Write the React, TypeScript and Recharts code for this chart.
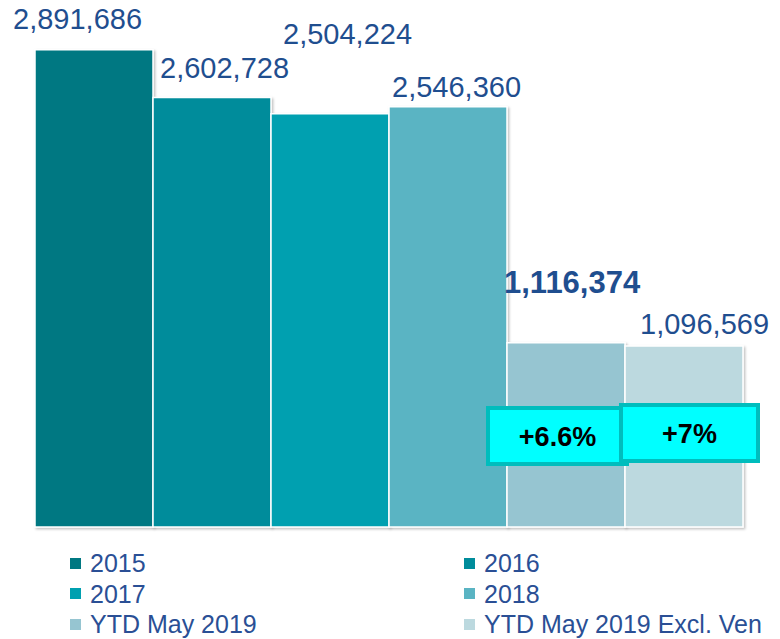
import React from 'react';
import { BarChart, Bar, XAxis, YAxis, LabelList, Legend } from 'recharts';

const SERIES = ['2015', '2016', '2017', '2018', 'YTD May 2019', 'YTD May 2019 Excl. Ven'];
const VALUES = [2891686, 2602728, 2504224, 2546360, 1116374, 1096569];
const GROWTH = ['', '', '', '', '+6.6%', '+7%'];
const COLORS = ['#007882', '#008C9B', '#00A0B0', '#5AB4C3', '#96C5D1', '#BCD9DF'];

// hand placed value labels, offset from top-left of each bar
const LABEL_DX = [-22, 7, 12, 3, -3, 15];
const LABEL_DY = [-21, -20, -70, -10, -50, -12];
const LABEL_BOLD = [false, false, false, false, true, false];

// growth badges, offset from bottom-left of the bar
const BOX_DX = [0, 0, 0, 0, -19, -4];
const BOX_W = [0, 0, 0, 0, 139, 137];
const BOX_DY = [0, 0, 0, 0, -119, -122];

const data = [
  SERIES.reduce((row: Record<string, number | string>, s, i) => {
    row[s] = VALUES[i];
    return row;
  }, { name: 'Total' }),
];

const TEXT_BLUE = '#1F4E8F';
const FONT = '"Liberation Sans", Arial, sans-serif';

const makeValueLabel = (i: number) => (props: any) => {
  const { x, y, value } = props;
  return (
    <text
      x={Number(x) + LABEL_DX[i]}
      y={Number(y) + LABEL_DY[i]}
      fill={TEXT_BLUE}
      fontFamily={FONT}
      fontSize={LABEL_BOLD[i] ? 31 : 29}
      fontWeight={LABEL_BOLD[i] ? 700 : 400}
      textAnchor="start"
    >
      {Number(value).toLocaleString('en-US')}
    </text>
  );
};

const makeGrowthBox = (i: number) => (props: any) => {
  const { x, y, height } = props;
  const bottom = Number(y) + Number(height);
  const bx = Number(x) + BOX_DX[i];
  const by = bottom + BOX_DY[i];
  const w = BOX_W[i];
  const h = 56;
  return (
    <g>
      <rect x={bx} y={by} width={w} height={h} fill="#00FFFF" stroke="#00BDBD" strokeWidth={4} />
      <text
        x={bx + w / 2}
        y={by + h / 2 + 10}
        textAnchor="middle"
        fontFamily={FONT}
        fontSize={27}
        fontWeight={700}
        fill="#000"
      >
        {GROWTH[i]}
      </text>
    </g>
  );
};

const GridLegend = (props: any) => {
  const { payload = [] } = props;
  return (
    <div
      style={{
        display: 'grid',
        gridTemplateColumns: '394px 320px',
        fontFamily: FONT,
        fontSize: 25,
        lineHeight: '30.5px',
        color: '#2A4F95',
        whiteSpace: 'nowrap',
      }}
    >
      {payload.map((p: any) => (
        <div key={p.value} style={{ display: 'flex', alignItems: 'center' }}>
          <span style={{ width: 11, height: 11, background: p.color, marginRight: 9, display: 'inline-block' }} />
          <span>{p.value}</span>
        </div>
      ))}
    </div>
  );
};

export default function App() {
  return (
    <div style={{ position: 'absolute', left: 0, top: 0, width: 780, height: 639, background: '#fff' }}>
      <BarChart
        width={780}
        height={540}
        data={data}
        margin={{ top: 32, right: 35, bottom: 13, left: 35 }}
        barCategoryGap={0}
        barGap={0}
      >
        <defs>
          <filter id="barShadow" x="-10%" y="-10%" width="130%" height="130%">
            <feDropShadow dx="1.5" dy="1.5" stdDeviation="1" floodColor="#000" floodOpacity="0.25" />
          </filter>
        </defs>
        <XAxis dataKey="name" hide />
        <YAxis hide domain={[0, 3000000]} />
        <Legend
          content={<GridLegend />}
          layout="horizontal"
          verticalAlign="middle"
          wrapperStyle={{ top: 548, left: 70, width: 714 }}
        />
        {SERIES.map((s, i) => (
          <Bar
            key={s}
            dataKey={s}
            name={s}
            fill={COLORS[i]}
            stroke="#fff"
            strokeWidth={1.5}
            filter="url(#barShadow)"
            isAnimationActive={false}
          >
            <LabelList dataKey={s} content={makeValueLabel(i)} />
            {GROWTH[i] && <LabelList dataKey={s} content={makeGrowthBox(i)} />}
          </Bar>
        ))}
      </BarChart>
    </div>
  );
}
